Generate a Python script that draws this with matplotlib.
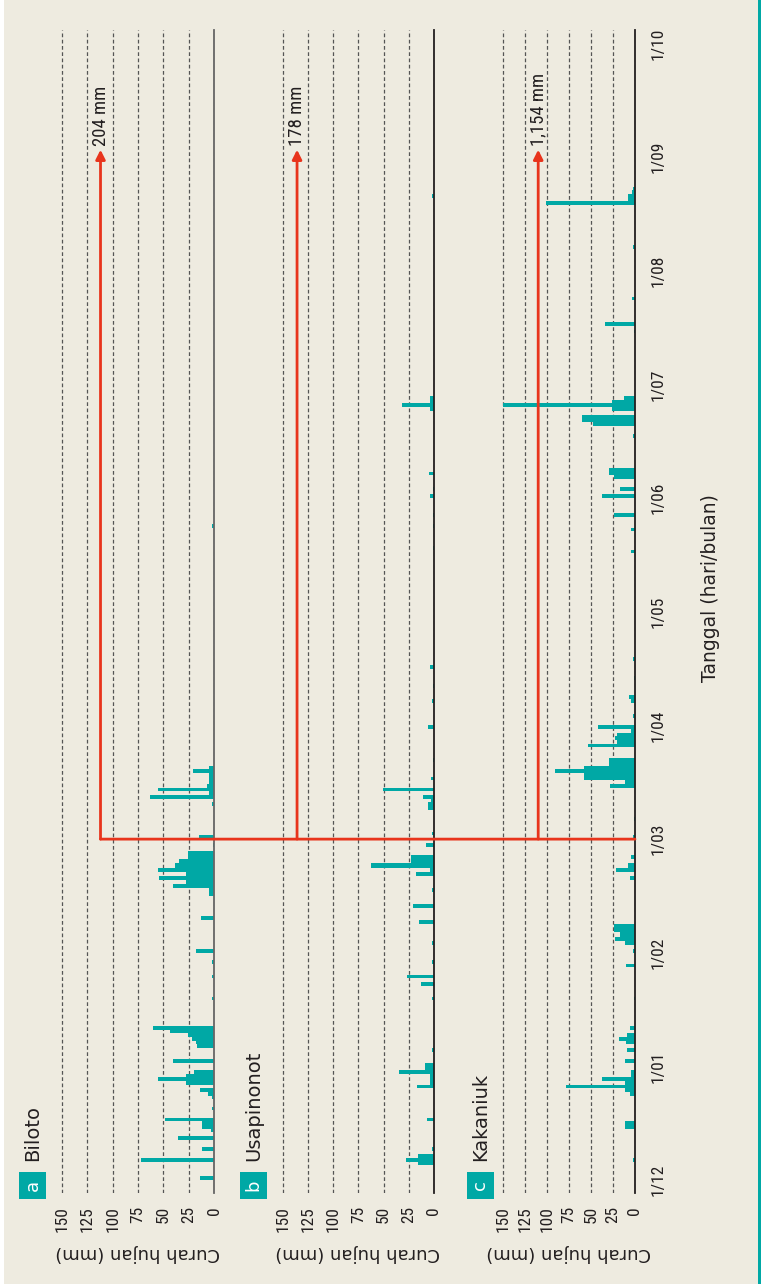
import matplotlib
matplotlib.use("Agg")
import matplotlib.pyplot as plt
from matplotlib import font_manager
from matplotlib.patches import Rectangle, ConnectionPatch

# ---- data ----
MONTHS = ['12', '01', '02', '03', '04', '05', '06', '07', '08', '09', '10']
DAYS = {'12': 31, '01': 31, '02': 28, '03': 31, '04': 30, '05': 31,
        '06': 30, '07': 31, '08': 31, '09': 30, '10': 31}
month_labels = ['1/12', '1/01', '1/02', '1/03', '1/04', '1/05',
                '1/06', '1/07', '1/08', '1/09', '1/10']

stations = ['Biloto', 'Usapinonot', 'Kakaniuk']
panel_letters = ['a', 'b', 'c']

biloto_dates = ['12-01', '12-06', '12-09', '12-12', '12-14', '12-15', '12-16', '12-17',
                '12-20', '12-23', '12-24', '12-25', '12-27', '12-28', '12-29', '12-30',
                '01-02', '01-06', '01-07', '01-08', '01-09', '01-10', '01-11', '01-19',
                '01-25', '01-29', '02-01', '02-09', '02-15', '02-16', '02-17', '02-18',
                '02-19', '02-20', '02-21', '02-22', '02-23', '02-24', '02-25', '02-27',
                '03-01', '03-10', '03-12', '03-13', '03-14', '03-15', '03-16', '03-17',
                '03-18', '03-19', '03-20', '05-24']
biloto_mm = [14, 72, 12, 36, 3, 12, 12, 48,
             2, 2, 6, 14, 28, 55, 28, 20,
             40, 17, 18, 22, 26, 43, 60, 2,
             2, 2, 18, 13, 5, 5, 40, 28,
             54, 28, 55, 38, 35, 26, 26, 1,
             15, 2, 63, 5, 55, 7, 5, 5,
             5, 21, 5, 2]

usapinonot_dates = ['12-05', '12-06', '12-07', '12-09', '12-17', '12-26', '12-27', '12-28',
                    '12-29', '12-30', '12-31', '01-01', '01-05', '01-19', '01-23', '01-25',
                    '01-29', '02-03', '02-08', '02-12', '02-16', '02-20', '02-21', '02-22',
                    '02-23', '02-24', '02-27', '03-02', '03-09', '03-10', '03-11', '03-12',
                    '03-14', '03-17', '03-22', '03-31', '04-07', '04-11', '04-16', '05-18',
                    '05-24', '05-27', '06-01', '06-03', '06-07', '06-24', '06-25', '06-26',
                    '06-27', '08-21']
usapinonot_mm = [16, 28, 16, 2, 7, 17, 4, 4,
                 4, 35, 9, 9, 2, 2, 13, 27,
                 2, 2, 15, 21, 2, 18, 4, 63,
                 23, 23, 8, 2, 6, 6, 3, 11,
                 51, 3, 1, 6, 2, 1, 4, 1,
                 1, 1, 4, 1, 5, 4, 32, 4,
                 4, 2]

kakaniuk_dates = ['12-06', '12-15', '12-16', '12-24', '12-25', '12-26', '12-27', '12-28',
                  '12-29', '12-30', '01-02', '01-05', '01-07', '01-08', '01-09', '01-11',
                  '01-19', '01-28', '02-01', '02-03', '02-04', '02-05', '02-06', '02-07',
                  '02-19', '02-21', '02-22', '02-24', '03-01', '03-06', '03-15', '03-16',
                  '03-17', '03-18', '03-19', '03-20', '03-21', '03-22', '03-26', '03-27',
                  '03-28', '03-29', '03-30', '03-31', '04-03', '04-07', '04-08', '04-13',
                  '04-18', '05-17', '05-23', '05-27', '06-01', '06-03', '06-06', '06-07',
                  '06-08', '06-17', '06-20', '06-21', '06-22', '06-24', '06-25', '06-26',
                  '06-27', '07-15', '07-17', '07-24', '08-07', '08-19', '08-20', '08-21',
                  '08-22', '08-23']
kakaniuk_mm = [2, 11, 11, 6, 11, 78, 11, 37,
               5, 5, 11, 9, 10, 18, 9, 6,
               1, 10, 2, 11, 23, 17, 24, 24,
               6, 22, 8, 4, 2, 1, 28, 11,
               58, 58, 91, 58, 29, 29, 53, 20,
               23, 20, 4, 42, 2, 5, 7, 1,
               2, 5, 5, 24, 38, 17, 24, 30,
               30, 2, 48, 60, 60, 26, 150, 26,
               12, 1, 34, 3, 2, 101, 8, 8,
               3, 2]

# red annotation: Mar-Sep totals
arrow_mm = [112, 136, 110]
arrow_start = '03-01'
arrow_end = '09-03'
totals = ['204 mm', '178 mm', '1,154 mm']

all_dates = [biloto_dates, usapinonot_dates, kakaniuk_dates]
all_mm = [biloto_mm, usapinonot_mm, kakaniuk_mm]

# ---- style ----
W, H = 761, 1284
BG = '#EEEBE0'
TEAL = '#00A8A5'
RED = '#E8341C'
INK = '#231F20'

plt.rcParams['font.family'] = ['DejaVu Sans']


def find_narrow():
    # a narrow face for the tick labels, if one is installed
    fonts = font_manager.fontManager.ttflist
    for want in ['Liberation Sans Narrow', 'Roboto Condensed', 'Open Sans Condensed']:
        for f in fonts:
            if f.name == want and f.style == 'normal' and f.weight in (400, 'normal', 'regular'):
                return font_manager.FontProperties(fname=f.fname), 1.0
    for f in fonts:
        if f.name == 'DejaVu Sans' and 'Condensed' in f.fname and 'Bold' not in f.fname \
                and 'Oblique' not in f.fname:
            return font_manager.FontProperties(fname=f.fname), 0.82
    return font_manager.FontProperties(family='DejaVu Sans'), 0.76


NARROW_FP, NS = find_narrow()


def narrow(size):
    fp = NARROW_FP.copy()
    fp.set_size(size * NS)
    return fp


def date_pos(s):
    m, d = s.split('-')
    return MONTHS.index(m) + (int(d) - 1) / DAYS[m]


def bar_height(s):
    return 1.0 / DAYS[s.split('-')[0]]


def fig_rect(x0, x1, y_top, y_bot):
    return [x0 / W, (H - y_bot) / H, (x1 - x0) / W, (y_bot - y_top) / H]


fig = plt.figure(figsize=(W / 100, H / 100), dpi=100)
fig.patch.set_facecolor(BG)
fig.add_artist(Rectangle((0, 0), 4 / W, 1, transform=fig.transFigure, color='white', lw=0))
fig.add_artist(Rectangle((758 / W, 0), 3 / W, 1, transform=fig.transFigure, color=TEAL, lw=0))

zero_px = [214, 434, 635]
px_per_mm = [1.0133, 1.007, 0.88]
top_px, bot_px = 30, 1193
XMAX = 151
label_x = [32.5, 253.5, 480.5]
spine_col = ['#666666', INK, INK]

axes = []
for i in range(3):
    left = zero_px[i] - XMAX * px_per_mm[i]
    ax = fig.add_axes(fig_rect(left, zero_px[i], top_px, bot_px))
    ax.set_facecolor('none')
    pos = [date_pos(s) for s in all_dates[i]]
    hts = [bar_height(s) for s in all_dates[i]]
    ax.barh(pos, all_mm[i], height=hts, align='edge', color=TEAL, lw=0, zorder=2)

    ax.set_xlim(XMAX, 0)
    ax.set_ylim(-0.114, 10.12)
    ax.set_xticks([150, 125, 100, 75, 50, 25, 0])
    ax.set_xticklabels(['150', '125', '100', '75', '50', '25', '0'],
                       fontproperties=narrow(12.5), color=INK)
    ax.tick_params(axis='x', length=0, pad=9.5, labelrotation=90)
    ax.grid(axis='x', ls=(0, (3, 2)), color='#555555', lw=0.9, zorder=1)
    for side in ['top', 'left', 'bottom']:
        ax.spines[side].set_visible(False)
    ax.spines['right'].set_color(spine_col[i])
    ax.spines['right'].set_linewidth(1.3)
    ax.spines['right'].set_zorder(3)

    ax.set_xlabel('Curah hujan (mm)', rotation=180, fontsize=13, color=INK, va='center')
    ax.xaxis.set_label_coords(0.5, -(1253 - bot_px) / (bot_px - top_px))

    if i < 2:
        ax.set_yticks([])
    else:
        ax.yaxis.tick_right()
        ax.set_yticks(range(len(month_labels)))
        ax.set_yticklabels(month_labels, fontproperties=narrow(12.5), color=INK, va='center')
        ax.tick_params(axis='y', length=0, pad=11, labelrotation=90)
        ax.yaxis.set_label_position('right')
        ax.set_ylabel('Tanggal (hari/bulan)', rotation=90, fontsize=13.5, color=INK,
                      va='center')
        ax.yaxis.set_label_coords((711 - left) / (zero_px[i] - left),
                                  (bot_px - 588) / (bot_px - top_px))

    # red arrow with seasonal total
    p0, p1 = date_pos(arrow_start), date_pos(arrow_end)
    ax.annotate('', xy=(arrow_mm[i], p1), xytext=(arrow_mm[i], p0),
                arrowprops=dict(arrowstyle='-|>', color=RED, lw=2.0,
                                shrinkA=0, shrinkB=0, mutation_scale=14),
                zorder=4)
    ax.text(arrow_mm[i], p1 + 0.03, totals[i], rotation=90, ha='center', va='bottom',
            fontproperties=narrow(13.5), color=INK)

    # panel letter box + station name
    fig.add_artist(Rectangle(((label_x[i] - 13.5) / W, (H - 1199) / H), 27 / W, 27 / H,
                             transform=fig.transFigure, color=TEAL, lw=0))
    fig.text(label_x[i] / W, (H - 1185.5) / H, panel_letters[i], rotation=90,
             ha='center', va='center', color='white', fontsize=13)
    fig.text(label_x[i] / W, (H - 1161) / H, stations[i], rotation=90,
             ha='center', va='bottom', color=INK, fontsize=14)
    axes.append(ax)

# red line joining the arrows at 1/03
con = ConnectionPatch(xyA=(arrow_mm[0], date_pos(arrow_start)), coordsA=axes[0].transData,
                      xyB=(0, date_pos(arrow_start)), coordsB=axes[2].transData,
                      color=RED, lw=2.0, zorder=5)
fig.add_artist(con)

fig.savefig('out.png', dpi=100, facecolor=fig.get_facecolor())
